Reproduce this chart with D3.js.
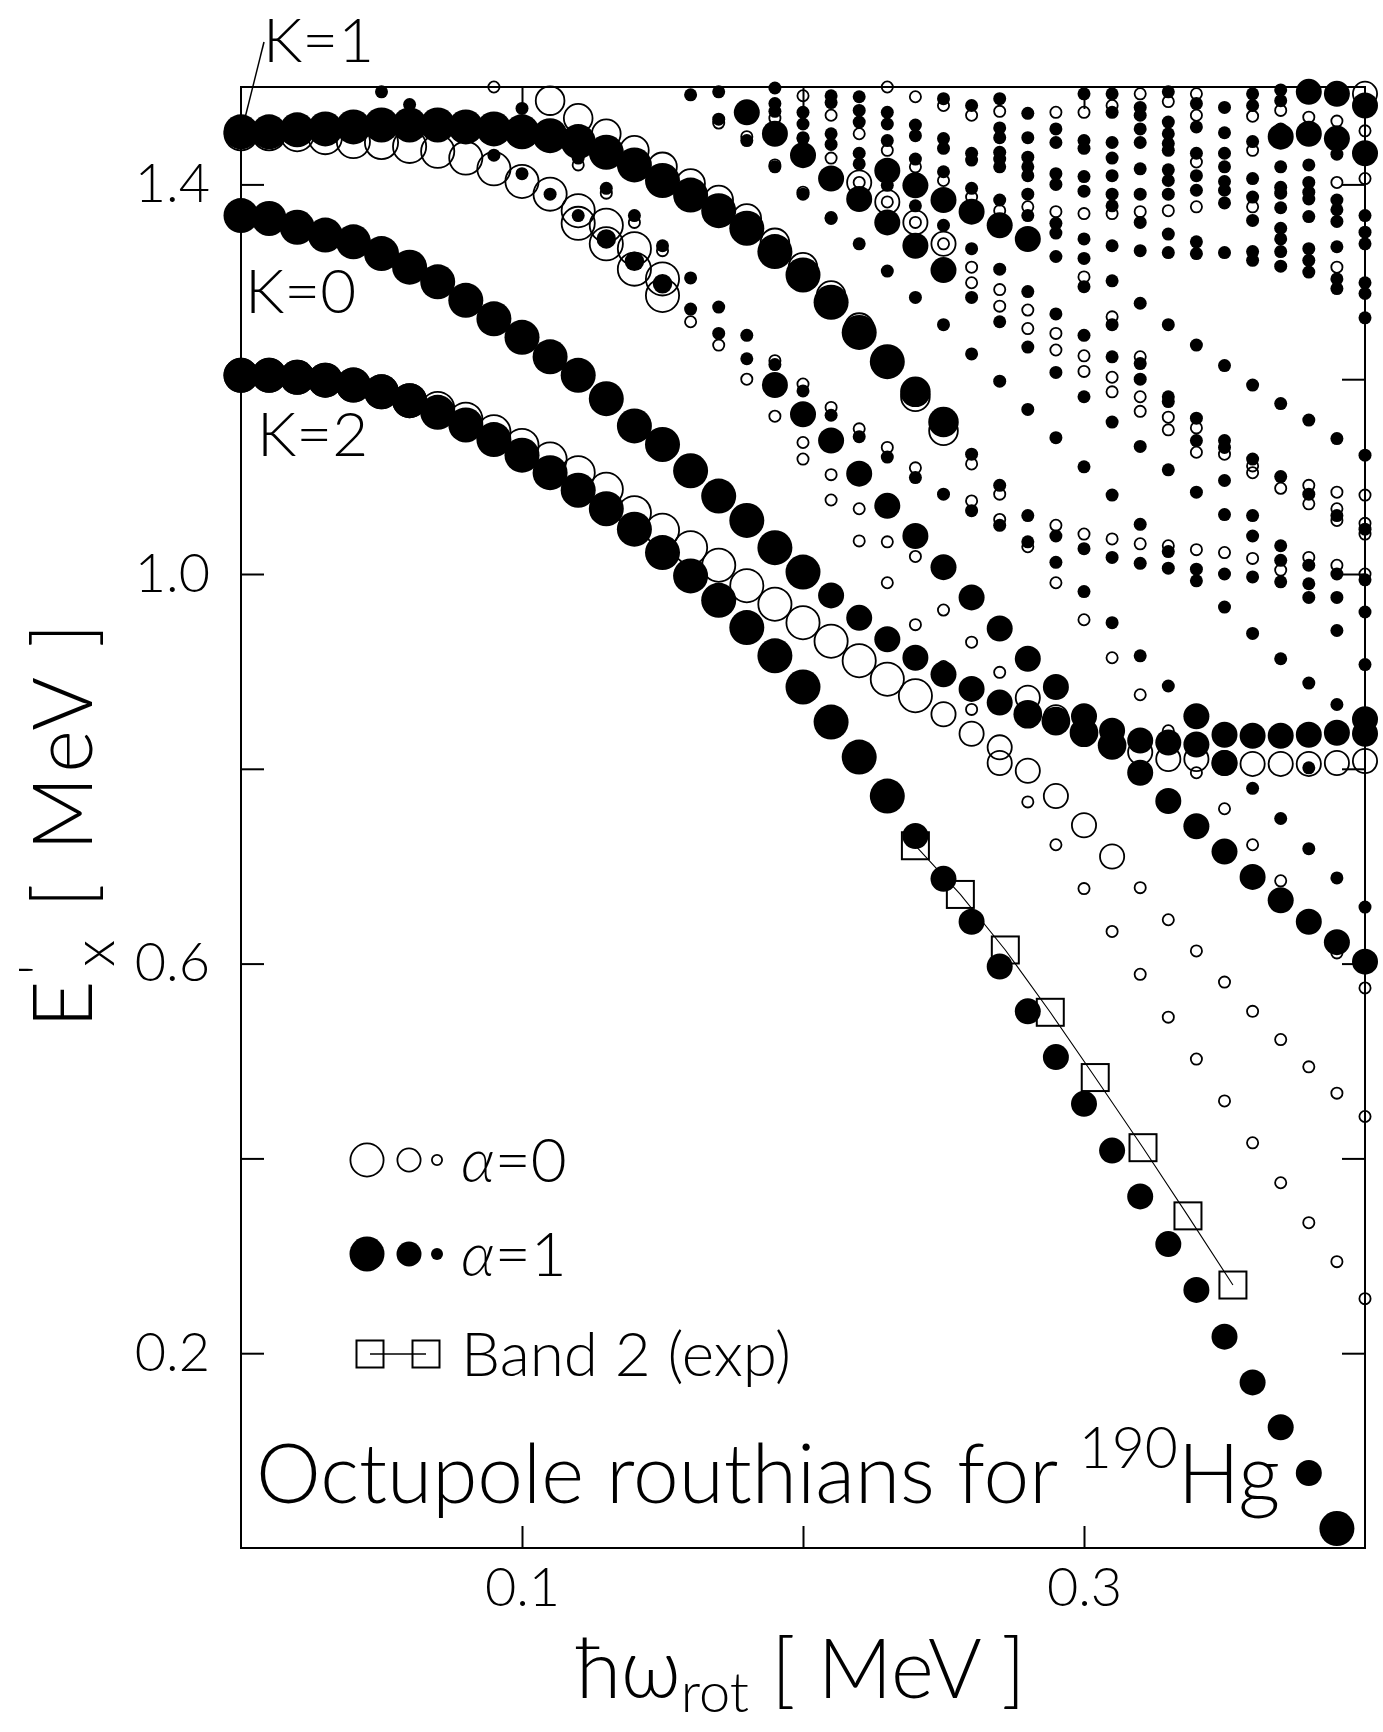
<!DOCTYPE html>
<html><head><meta charset="utf-8">
<script src="https://cdn.jsdelivr.net/npm/d3@7"></script>
<style>body{margin:0;background:#fff}</style>
</head><body>
<svg id="c" width="1383" height="1732"></svg>
<script>
// ---------------- DATA ----------------
// [hbar*omega (MeV), E' (MeV), strength class 1=small 2=medium 3=large]
const bandK1a1 = [[0.00,1.454,3],[0.01,1.454,3],[0.02,1.456,3],[0.03,1.457,3],[0.04,1.459,3],[0.05,1.461,3],[0.06,1.461,3],[0.07,1.461,3],[0.08,1.459,3],[0.09,1.457,3],[0.10,1.454,3],[0.11,1.450,3],[0.12,1.444,3],[0.13,1.433,3],[0.14,1.420,3],[0.15,1.404,3],[0.16,1.389,3],[0.17,1.373,3],[0.18,1.355,3],[0.19,1.331,3],[0.20,1.307,3],[0.21,1.279,3],[0.22,1.248,3],[0.23,1.218,3],[0.24,1.187,2.5],[0.25,1.156,2.5],[0.26,1.123,1],[0.27,1.091,1],[0.28,1.060,1],[0.29,1.039,1],[0.30,1.026,1],[0.31,1.017,1],[0.32,1.011,1],[0.33,1.006,1],[0.34,1.005,1],[0.35,1.000,1],[0.36,0.997,1],[0.37,0.992,1],[0.38,0.990,1],[0.39,1.000,1],[0.40,0.994,1]];
const bandK1a0 = [[0.00,1.452,3],[0.01,1.452,3],[0.02,1.451,3],[0.03,1.448,3],[0.04,1.444,3],[0.05,1.443,3],[0.06,1.439,3],[0.07,1.434,3],[0.08,1.427,3],[0.09,1.416,3],[0.10,1.403,3],[0.11,1.390,3],[0.12,1.373,3],[0.13,1.358,3],[0.14,1.334,3],[0.15,1.303,3]];
const bandK1a0b = [[0.11,1.486,2.5],[0.12,1.468,2.5],[0.13,1.452,2.5],[0.14,1.435,2.5],[0.15,1.418,2.5],[0.16,1.401,2.5],[0.17,1.384,2.5],[0.18,1.365,2.5],[0.19,1.340,2.5],[0.20,1.315,2.5],[0.21,1.286,2.5],[0.22,1.253,2.5],[0.23,1.219,2.5],[0.24,1.182,2.5],[0.25,1.147,2.5],[0.26,1.113,1],[0.27,1.082,1]];
const bandK0a1 = [[0.00,1.368,3],[0.01,1.365,3],[0.02,1.356,3],[0.03,1.348,3],[0.04,1.341,3],[0.05,1.329,3],[0.06,1.315,3],[0.07,1.300,3],[0.08,1.281,3],[0.09,1.262,3],[0.10,1.243,3],[0.11,1.223,3],[0.12,1.204,3],[0.13,1.180,3],[0.14,1.152,3],[0.15,1.133,3],[0.16,1.106,3],[0.17,1.080,3],[0.18,1.055,3],[0.19,1.027,3],[0.20,1.002,3],[0.21,0.978,2],[0.22,0.955,2],[0.23,0.933,2],[0.24,0.914,2],[0.25,0.897,2],[0.26,0.882,2],[0.27,0.868,2],[0.28,0.856,2.3],[0.29,0.849,2.3],[0.30,0.837,2.3],[0.31,0.824,2.3],[0.32,0.796,2],[0.33,0.767,2],[0.34,0.741,2],[0.35,0.715,2],[0.36,0.689,2],[0.37,0.665,2],[0.38,0.643,2],[0.39,0.622,2],[0.40,0.602,2]];
const bandK2a1 = [[0.00,1.204,3],[0.01,1.204,3],[0.02,1.202,3],[0.03,1.199,3],[0.04,1.194,3],[0.05,1.187,3],[0.06,1.178,3],[0.07,1.166,3],[0.08,1.153,3],[0.09,1.138,3],[0.10,1.122,3],[0.11,1.104,3],[0.12,1.086,3],[0.13,1.067,3],[0.14,1.046,3],[0.15,1.022,3],[0.16,0.998,3],[0.17,0.973,3],[0.18,0.945,3],[0.19,0.916,3],[0.20,0.884,3],[0.21,0.848,3],[0.22,0.812,3],[0.23,0.772,3],[0.24,0.731,2],[0.25,0.687,2],[0.26,0.643,2],[0.27,0.597,2],[0.28,0.551,2],[0.29,0.504,2],[0.30,0.456,2],[0.31,0.408,2],[0.32,0.361,2],[0.33,0.312,2],[0.34,0.265,2],[0.35,0.217,2],[0.36,0.170,2],[0.37,0.124,2],[0.38,0.077,2],[0.39,0.020,3]];
const bandK2a0 = [[0.00,1.204,3],[0.01,1.204,3],[0.02,1.202,3],[0.03,1.199,3],[0.04,1.194,3],[0.05,1.187,3],[0.06,1.178,3],[0.07,1.170,3],[0.08,1.159,3],[0.09,1.146,3],[0.10,1.132,3],[0.11,1.118,3],[0.12,1.104,3],[0.13,1.087,3],[0.14,1.063,3],[0.15,1.045,3],[0.16,1.027,3],[0.17,1.009,3],[0.18,0.988,3],[0.19,0.969,3],[0.20,0.950,3],[0.21,0.931,3],[0.22,0.911,3],[0.23,0.892,3],[0.24,0.875,3],[0.25,0.856,2],[0.26,0.836,2],[0.27,0.822,2],[0.28,0.798,2],[0.29,0.772,2],[0.30,0.742,2],[0.31,0.710,2]];
const otherAlpha1 = [
[0.05,1.495,1],[0.06,1.482,1],[0.09,1.430,1],[0.10,1.478,1],[0.10,1.411,1],[0.11,1.390,1],[0.12,1.427,1],[0.12,1.368,1],
[0.13,1.396,1],[0.13,1.344,1.5],[0.14,1.368,1],[0.14,1.321,1.5],[0.15,1.337,1],[0.15,1.298,1.5],
[0.16,1.492,1],[0.16,1.304,1],[0.16,1.272,1],[0.17,1.495,1],[0.17,1.467,1],[0.17,1.274,1],[0.17,1.247,1],
[0.18,1.474,2],[0.18,1.445,1],[0.18,1.245,1],[0.18,1.221,1],
[0.19,1.499,1],[0.19,1.483,1],[0.19,1.475,1],[0.19,1.452,2],[0.19,1.418,1],[0.19,1.215,1],[0.19,1.194,2],
[0.20,1.474,1],[0.20,1.462,1],[0.20,1.447,1],[0.20,1.430,2],[0.20,1.390,1],[0.20,1.188,1],[0.20,1.164,2],
[0.21,1.491,1],[0.21,1.484,1],[0.21,1.452,1],[0.21,1.441,1],[0.21,1.406,2],[0.21,1.365,1],[0.21,1.163,1],[0.21,1.137,2],
[0.22,1.490,1],[0.22,1.476,1],[0.22,1.464,1],[0.22,1.432,1],[0.22,1.421,1],[0.22,1.385,2],[0.22,1.339,1],[0.22,1.141,1],[0.22,1.103,2],
[0.23,1.474,1],[0.23,1.462,1],[0.23,1.445,1],[0.23,1.414,2],[0.23,1.399,1],[0.23,1.361,2],[0.23,1.311,1],[0.23,1.120,1],[0.23,1.070,2],
[0.24,1.461,1],[0.24,1.450,1],[0.24,1.426,1],[0.24,1.399,2],[0.24,1.378,1],[0.24,1.337,2],[0.24,1.284,1],[0.24,1.099,1],[0.24,1.039,2],
[0.25,1.488,1],[0.25,1.447,1],[0.25,1.437,1],[0.25,1.413,1],[0.25,1.384,2],[0.25,1.358,1],[0.25,1.312,2],[0.25,1.256,1],[0.25,1.082,1],[0.25,1.007,2],
[0.26,1.481,1],[0.26,1.432,1],[0.26,1.425,1],[0.26,1.396,1],[0.26,1.372,2],[0.26,1.334,1],[0.26,1.284,1],[0.26,1.226,1],[0.26,1.065,1],[0.26,0.976,2],
[0.27,1.488,1],[0.27,1.458,1],[0.27,1.448,1],[0.27,1.433,1],[0.27,1.426,1],[0.27,1.418,1],[0.27,1.384,1],[0.27,1.358,2],[0.27,1.313,1],[0.27,1.259,1],[0.27,1.198,1],[0.27,1.050,1],[0.27,0.944,2],
[0.28,1.473,1],[0.28,1.448,1],[0.28,1.428,1],[0.28,1.418,1],[0.28,1.409,1],[0.28,1.390,1],[0.28,1.368,1],[0.28,1.344,2],[0.28,1.290,1],[0.28,1.233,1],[0.28,1.169,1],[0.28,1.033,1],[0.28,0.913,2],
[0.29,1.457,1],[0.29,1.443,1],[0.29,1.411,1],[0.29,1.400,1],[0.29,1.360,1],[0.29,1.350,1],[0.29,1.326,1],[0.29,1.267,1],[0.29,1.207,1],[0.29,1.140,1],[0.29,1.012,1],[0.29,0.884,2],
[0.30,1.493,1],[0.30,1.445,1],[0.30,1.437,1],[0.30,1.408,1],[0.30,1.393,1],[0.30,1.344,1],[0.30,1.324,1],[0.30,1.295,1],[0.30,1.245,1],[0.30,1.182,1],[0.30,1.110,1],[0.30,0.982,1],[0.30,0.854,2],
[0.31,1.493,1],[0.31,1.474,1],[0.31,1.443,1],[0.31,1.427,1],[0.31,1.409,1],[0.31,1.390,1],[0.31,1.378,1],[0.31,1.337,1],[0.31,1.301,1],[0.31,1.256,1],[0.31,1.223,1],[0.31,1.156,1],[0.31,1.081,1],[0.31,0.950,1],[0.31,0.839,2],
[0.32,1.479,1],[0.32,1.471,1],[0.32,1.457,1],[0.32,1.443,1],[0.32,1.416,1],[0.32,1.390,1],[0.32,1.361,1],[0.32,1.332,1],[0.32,1.278,1],[0.32,1.216,1],[0.32,1.200,1],[0.32,1.131,1],[0.32,1.051,1],[0.32,0.916,1],[0.32,0.829,2],
[0.33,1.495,1],[0.33,1.464,1],[0.33,1.452,1],[0.33,1.442,1],[0.33,1.435,1],[0.33,1.415,1],[0.33,1.404,1],[0.33,1.390,1],[0.33,1.349,1],[0.33,1.330,1],[0.33,1.256,1],[0.33,1.182,1],[0.33,1.177,1],[0.33,1.107,1],[0.33,1.023,1],[0.33,0.885,1],[0.33,0.827,2],
[0.34,1.483,1],[0.34,1.459,1],[0.34,1.432,1],[0.34,1.409,1],[0.34,1.394,1],[0.34,1.341,1],[0.34,1.329,1],[0.34,1.235,1],[0.34,1.160,1],[0.34,1.137,1],[0.34,1.084,1],[0.34,0.993,1],[0.34,0.854,2],[0.34,0.825,2],
[0.35,1.479,1],[0.35,1.453,1],[0.35,1.432,1],[0.35,1.418,1],[0.35,1.403,1],[0.35,1.394,1],[0.35,1.381,1],[0.35,1.330,1],[0.35,1.214,1],[0.35,1.137,1],[0.35,1.130,1],[0.35,1.096,1],[0.35,1.061,1],[0.35,0.966,1],[0.35,0.835,2],[0.35,0.806,2],
[0.36,1.493,1],[0.36,1.481,1],[0.36,1.444,1],[0.36,1.406,1],[0.36,1.387,1],[0.36,1.363,1],[0.36,1.331,1],[0.36,1.322,1],[0.36,1.194,1],[0.36,1.118,1],[0.36,1.060,1],[0.36,1.039,1],[0.36,0.939,1],[0.36,0.834,2],[0.36,0.780,1],
[0.37,1.497,1],[0.37,1.486,1],[0.37,1.449,2],[0.37,1.418,1],[0.37,1.397,1],[0.37,1.391,1],[0.37,1.376,1],[0.37,1.355,1],[0.37,1.344,1],[0.37,1.331,1],[0.37,1.316,1],[0.37,1.175,1],[0.37,1.100,1],[0.37,1.029,1],[0.37,1.014,1],[0.37,0.913,1],[0.37,0.834,2],[0.37,0.749,1],
[0.38,1.495,2],[0.38,1.452,2],[0.38,1.420,1],[0.38,1.402,1],[0.38,1.392,1],[0.38,1.385,1],[0.38,1.367,1],[0.38,1.334,1],[0.38,1.322,1],[0.38,1.310,1],[0.38,1.158,1],[0.38,1.082,1],[0.38,1.009,1],[0.38,0.976,1],[0.38,0.888,1],[0.38,0.835,2],[0.38,0.801,1],[0.38,0.718,1],
[0.39,1.493,2],[0.39,1.447,2],[0.39,1.431,1],[0.39,1.384,1],[0.39,1.374,1],[0.39,1.362,1],[0.39,1.336,1],[0.39,1.303,1],[0.39,1.293,1],[0.39,1.139,1],[0.39,1.060,1],[0.39,0.976,1],[0.39,0.942,1],[0.39,0.866,1],[0.39,0.837,2],[0.39,0.688,1],
[0.40,1.481,2],[0.40,1.432,2],[0.40,1.368,1],[0.40,1.351,1],[0.40,1.339,1],[0.40,1.299,1],[0.40,1.288,1],[0.40,1.263,1],[0.40,1.122,1],[0.40,1.046,1],[0.40,0.961,1],[0.40,0.907,1],[0.40,0.851,2],[0.40,0.836,2],[0.40,0.658,1]
];
const otherAlpha0 = [
[0.09,1.500,1],[0.12,1.420,1],[0.12,1.360,3],[0.13,1.391,1],[0.13,1.339,3],[0.14,1.361,1],[0.14,1.313,3],[0.15,1.332,1],[0.15,1.286,3],
[0.16,1.259,1],[0.17,1.463,1],[0.17,1.235,1],[0.18,1.449,1],[0.18,1.200,1],
[0.19,1.468,1],[0.19,1.420,1],[0.19,1.219,1],[0.19,1.162,1],
[0.20,1.491,1],[0.20,1.448,1],[0.20,1.392,1],[0.20,1.195,1],[0.20,1.135,1],[0.20,1.118,1],
[0.21,1.471,1],[0.21,1.427,1],[0.21,1.366,1],[0.21,1.171,1],[0.21,1.102,1],[0.21,1.076,1],
[0.22,1.452,1],[0.22,1.402,2],[0.22,1.402,1],[0.22,1.149,1],[0.22,1.067,1],[0.22,1.034,1],
[0.23,1.500,1],[0.23,1.435,1],[0.23,1.382,2],[0.23,1.382,1],[0.23,1.130,1],[0.23,1.033,1],[0.23,0.991,1],
[0.24,1.490,1],[0.24,1.418,1],[0.24,1.361,2],[0.24,1.361,1],[0.24,1.109,1],[0.24,1.018,1],[0.24,0.948,1],
[0.25,1.481,1],[0.25,1.404,1],[0.25,1.339,2],[0.25,1.339,1],[0.25,0.963,1],[0.25,0.905,1],
[0.26,1.471,1],[0.26,1.387,1],[0.26,1.315,1],[0.26,1.299,1],[0.26,1.075,1],[0.26,0.930,1],[0.26,0.861,1],
[0.27,1.475,1],[0.27,1.373,1],[0.27,1.292,1],[0.27,1.275,1],[0.27,1.056,1],[0.27,0.899,1],[0.27,0.806,2],
[0.28,1.377,1],[0.28,1.271,1],[0.28,1.252,1],[0.28,1.028,1],[0.28,0.873,2],[0.28,0.766,1],
[0.29,1.474,1],[0.29,1.372,1],[0.29,1.247,1],[0.29,1.230,1],[0.29,1.050,1],[0.29,0.991,1],[0.29,0.853,2],[0.29,0.722,1],
[0.30,1.474,1],[0.30,1.370,1],[0.30,1.305,1],[0.30,1.224,1],[0.30,1.208,1],[0.30,1.041,1],[0.30,0.953,1],[0.30,0.677,1],
[0.31,1.481,1],[0.31,1.370,1],[0.31,1.264,1],[0.31,1.202,1],[0.31,1.187,1],[0.31,1.036,1],[0.31,0.914,1],[0.31,0.633,1],
[0.32,1.493,1],[0.32,1.372,1],[0.32,1.223,1],[0.32,1.182,1],[0.32,1.167,1],[0.32,1.031,1],[0.32,0.876,1],[0.32,0.817,2],[0.32,0.678,1],[0.32,0.589,1],
[0.33,1.485,1],[0.33,1.373,1],[0.33,1.161,1],[0.33,1.148,1],[0.33,1.029,1],[0.33,0.839,1],[0.33,0.810,2],[0.33,0.645,1],[0.33,0.545,1],
[0.34,1.493,1],[0.34,1.471,1],[0.34,1.423,1],[0.34,1.377,1],[0.34,1.150,1],[0.34,1.125,1],[0.34,1.025,1],[0.34,0.810,2],[0.34,0.796,1],[0.34,0.613,1],[0.34,0.502,1],
[0.35,1.123,1],[0.35,1.022,1],[0.35,0.806,2],[0.35,0.759,1],[0.35,0.581,1],[0.35,0.459,1],
[0.36,1.470,1],[0.36,1.435,1],[0.36,1.377,1],[0.36,1.111,1],[0.36,1.104,1],[0.36,1.016,1],[0.36,0.805,2],[0.36,0.722,1],[0.36,0.551,1],[0.36,0.416,1],
[0.37,1.476,1],[0.37,1.457,1],[0.37,1.088,1],[0.37,1.004,1],[0.37,0.805,2],[0.37,0.685,1],[0.37,0.522,1],[0.37,0.375,1],
[0.38,1.469,1],[0.38,1.091,1],[0.38,1.072,1],[0.38,1.017,1],[0.38,0.805,2],[0.38,0.494,1],[0.38,0.334,1],
[0.39,1.465,1],[0.39,1.402,1],[0.39,1.315,1],[0.39,1.084,1],[0.39,1.067,1],[0.39,1.055,1],[0.39,1.009,1],[0.39,0.806,2],[0.39,0.611,1],[0.39,0.467,1],[0.39,0.294,1],
[0.40,1.493,2],[0.40,1.455,1],[0.40,1.406,1],[0.40,1.081,1],[0.40,1.052,1],[0.40,1.041,1],[0.40,1.000,1],[0.40,0.808,2],[0.40,0.575,1],[0.40,0.443,1],[0.40,0.256,1]
];
const band2Omega = [0.240,0.256,0.272,0.288,0.304,0.321,0.337,0.353];
const band2E     = [0.721,0.671,0.614,0.550,0.483,0.411,0.341,0.270];
const yTickValues = [0.2,0.4,0.6,0.8,1.0,1.2,1.4];
const yTickLabels = [0.2,0.6,1.0,1.4];
const xTickValues = [0.1,0.2,0.3];
const xTickLabels = [0.1,0.3];

// ---------------- DRAWING ----------------
const FONT = "Lato, 'Noto Sans', 'DejaVu Sans', sans-serif";
const svg = d3.select("#c");
svg.append("rect").attr("width",1383).attr("height",1732).attr("fill","#fff");
const x = d3.scaleLinear().domain([0,0.4]).range([241,1365]);
const y = d3.scaleLinear().domain([0,1.5]).range([1548,87]);
const r = d3.scaleLinear().domain([1,2,3]).range([6.5,13,17.5]);
const fmt = d3.format(".1f");

function styleAxis(g){
  g.select(".domain").remove();
  g.selectAll("line").attr("stroke","#000").attr("stroke-width",2);
  g.attr("font-family",FONT).attr("font-size",54).attr("font-weight",300);
  g.selectAll("text").attr("fill","#000");
}
styleAxis(svg.append("g").attr("transform",`translate(${x(0)},0)`)
  .call(d3.axisLeft(y).tickValues(yTickValues).tickSize(-23).tickPadding(31)
  .tickFormat(d=>yTickLabels.includes(d)?fmt(d):"")));
styleAxis(svg.append("g").attr("transform",`translate(${x(0.4)},0)`)
  .call(d3.axisRight(y).tickValues(yTickValues).tickSize(-23).tickFormat("")));
styleAxis(svg.append("g").attr("transform",`translate(0,${y(0)})`)
  .call(d3.axisBottom(x).tickValues(xTickValues).tickSize(-22).tickPadding(20)
  .tickFormat(d=>xTickLabels.includes(d)?fmt(d):"")));
styleAxis(svg.append("g").attr("transform",`translate(0,${y(1.5)})`)
  .call(d3.axisTop(x).tickValues(xTickValues).tickSize(-22).tickFormat("")));

// frame
svg.append("rect").attr("x",x(0)).attr("y",y(1.5)).attr("width",x(0.4)-x(0)).attr("height",y(0)-y(1.5))
  .attr("fill","none").attr("stroke","#000").attr("stroke-width",2);

// experimental band 2
const band2 = band2Omega.map((w,i)=>[w,band2E[i]]);
svg.append("path").datum(band2).attr("fill","none").attr("stroke","#000").attr("stroke-width",1.1)
  .attr("d",d3.line().x(d=>x(d[0])).y(d=>y(d[1])));
svg.append("g").selectAll("rect").data(band2).join("rect")
  .attr("x",d=>x(d[0])-13.5).attr("y",d=>y(d[1])-13.5).attr("width",27).attr("height",27)
  .attr("fill","none").attr("stroke","#000").attr("stroke-width",2);

function drawOpen(data){
  svg.append("g").selectAll("circle").data(data).join("circle")
    .attr("cx",d=>x(d[0])).attr("cy",d=>y(d[1])).attr("r",d=>r(d[2])-0.9)
    .attr("fill","none").attr("stroke","#000").attr("stroke-width",1.8);
}
function drawFilled(data){
  svg.append("g").selectAll("circle").data(data).join("circle")
    .attr("cx",d=>x(d[0])).attr("cy",d=>y(d[1])).attr("r",d=>r(d[2]))
    .attr("fill","#000");
}
[bandK1a0,bandK1a0b,bandK2a0,otherAlpha0].forEach(drawOpen);
[bandK1a1,bandK0a1,bandK2a1,otherAlpha1].forEach(drawFilled);

// labels
function txt(xp,yp,size){ return svg.append("text").attr("x",xp).attr("y",yp)
  .attr("font-family",FONT).attr("font-size",size).attr("font-weight",300).attr("fill","#000"); }
txt(263,62,62).text("K=1");
svg.append("line").attr("x1",264).attr("y1",42).attr("x2",244).attr("y2",122).attr("stroke","#000").attr("stroke-width",1.5);
txt(245,313,62).text("K=0");
txt(257,456,62).text("K=2");

// legend
const lg = svg.append("g");
[[367,17.5],[409,12.5],[437,6]].forEach(([cx,rr])=>{
  lg.append("circle").attr("cx",cx).attr("cy",1160).attr("r",rr-0.9).attr("fill","none").attr("stroke","#000").attr("stroke-width",1.8);
  lg.append("circle").attr("cx",cx).attr("cy",1254).attr("r",rr).attr("fill","#000");
});
const a0 = txt(461,1182,62); a0.append("tspan").attr("font-style","italic").text("α"); a0.append("tspan").text("=0");
const a1 = txt(461,1276,62); a1.append("tspan").attr("font-style","italic").text("α"); a1.append("tspan").text("=1");
lg.append("line").attr("x1",370).attr("x2",426).attr("y1",1354).attr("y2",1354).attr("stroke","#000").attr("stroke-width",1.5);
[370,426].forEach(cx=>lg.append("rect").attr("x",cx-13.5).attr("y",1340.5).attr("width",27).attr("height",27).attr("fill","none").attr("stroke","#000").attr("stroke-width",2));
txt(461,1376,62).text("Band 2 (exp)");

// title inside
const t = txt(256,1503,82);
t.append("tspan").text("Octupole routhians for ");
t.append("tspan").attr("font-size",57).attr("dy",-35).text("190");
t.append("tspan").attr("dy",35).text("Hg");

// axis titles
const xt = txt(576,1698,82);
xt.append("tspan").text("ħω");
xt.append("tspan").attr("font-size",56).attr("dy",14).text("rot");
xt.append("tspan").attr("dy",-14).text(" [ MeV ]");

const yt = svg.append("text").attr("transform","translate(92,1028) rotate(-90)")
  .attr("font-family",FONT).attr("font-size",82).attr("font-weight",300).attr("fill","#000")
  .attr("letter-spacing",5);
yt.append("tspan").text("E");
yt.append("tspan").attr("font-size",58).attr("dy",-32).text("'");
yt.append("tspan").attr("font-size",58).attr("dy",54).attr("dx",-8).text("x");
yt.append("tspan").attr("dy",-22).text(" [ MeV ]");
</script>
</body></html>
